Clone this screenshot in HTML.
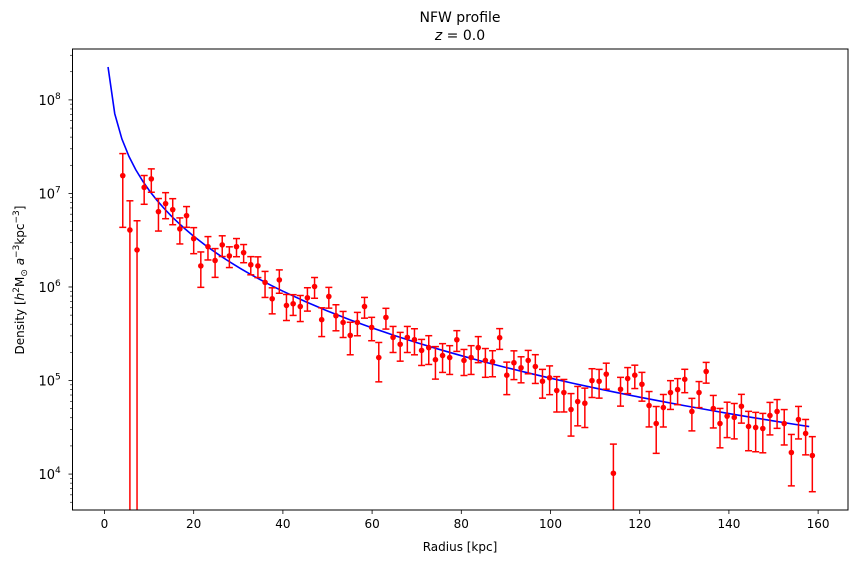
<!DOCTYPE html>
<html><head><meta charset="utf-8"><style>
body{margin:0;background:#fff;font-family:"DejaVu Sans","Liberation Sans",sans-serif}
svg text{font-family:"DejaVu Sans","Liberation Sans",sans-serif;fill:#000}
</style></head><body>
<svg id="chart" width="857" height="564" viewBox="0 0 857 564" xmlns="http://www.w3.org/2000/svg">
<text x="460" y="22" font-size="14" text-anchor="middle">NFW profile</text>
<text x="460" y="40" font-size="14" text-anchor="middle"><tspan font-style="italic">z</tspan> = 0.0</text>
<text x="460" y="551" font-size="12" text-anchor="middle">Radius [kpc]</text>
<text transform="translate(24,280) rotate(-90)" font-size="12" text-anchor="middle">Density [<tspan font-style="italic">h</tspan><tspan dy="-5" font-size="9">2</tspan><tspan dy="5">M</tspan><tspan dy="3" font-size="9">⊙</tspan><tspan dy="-3" font-style="italic"> a</tspan><tspan dy="-5" font-size="9">−3</tspan><tspan dy="5">kpc</tspan><tspan dy="-5" font-size="9">−3</tspan><tspan dy="5">]</tspan></text>
<g id="plot"></g>
</svg>
<script>
const xTicks=[0,20,40,60,80,100,120,140,160];
const yTickExps=[4,5,6,7,8];
const radius=[4.1,5.7,7.3,8.9,10.5,12.1,13.7,15.3,16.9,18.4,20.0,21.6,23.2,24.8,26.4,28.0,29.6,31.2,32.8,34.4,36.0,37.6,39.2,40.8,42.3,43.9,45.5,47.1,48.7,50.3,51.9,53.5,55.1,56.7,58.3,59.9,61.5,63.1,64.7,66.3,67.9,69.5,71.1,72.7,74.2,75.8,77.4,79.0,80.6,82.2,83.8,85.4,87.0,88.6,90.2,91.8,93.4,95.0,96.6,98.2,99.8,101.4,103.0,104.6,106.1,107.7,109.3,110.9,112.5,114.1,115.7,117.3,118.9,120.5,122.1,123.7,125.3,126.9,128.5,130.1,131.7,133.3,134.9,136.5,138.0,139.6,141.2,142.8,144.4,146.0,147.6,149.2,150.8,152.4,154.0,155.6,157.2,158.7];
const density=[1.55e7,4.07e6,2.49e6,1.16e7,1.43e7,6.39e6,7.78e6,6.71e6,4.18e6,5.79e6,3.29e6,1.68e6,2.70e6,1.92e6,2.82e6,2.15e6,2.70e6,2.33e6,1.73e6,1.68e6,1.12e6,7.48e5,1.19e6,6.35e5,6.62e5,6.19e5,7.67e5,1.01e6,4.47e5,7.92e5,4.93e5,4.18e5,3.04e5,4.18e5,6.19e5,3.70e5,1.76e5,4.73e5,2.89e5,2.44e5,2.89e5,2.73e5,2.10e5,2.25e5,1.67e5,1.85e5,1.76e5,2.73e5,1.64e5,1.76e5,2.25e5,1.64e5,1.59e5,2.87e5,1.14e5,1.55e5,1.37e5,1.64e5,1.41e5,9.82e4,1.07e5,7.81e4,7.44e4,4.90e4,5.96e4,5.72e4,9.98e4,9.82e4,1.17e5,1.02e4,8.07e4,1.05e5,1.14e5,9.12e4,5.41e4,3.47e4,5.14e4,7.44e4,8.00e4,1.03e5,4.67e4,7.44e4,1.25e5,5.02e4,3.47e4,4.16e4,4.03e4,5.31e4,3.23e4,3.15e4,3.07e4,4.23e4,4.67e4,3.47e4,1.70e4,3.83e4,2.72e4,1.58e4];
const relErr=[0.72,1.05,1.05,0.34,0.28,0.38,0.31,0.31,0.31,0.25,0.31,0.41,0.28,0.34,0.25,0.25,0.22,0.22,0.22,0.25,0.31,0.31,0.28,0.31,0.25,0.31,0.28,0.25,0.34,0.25,0.31,0.31,0.38,0.28,0.25,0.28,0.45,0.25,0.31,0.34,0.31,0.31,0.31,0.34,0.38,0.34,0.34,0.25,0.31,0.34,0.31,0.34,0.31,0.25,0.38,0.34,0.31,0.28,0.34,0.34,0.34,0.41,0.38,0.48,0.45,0.45,0.34,0.34,0.31,1.05,0.34,0.31,0.28,0.34,0.41,0.52,0.38,0.34,0.31,0.28,0.38,0.31,0.25,0.38,0.45,0.41,0.41,0.34,0.45,0.45,0.45,0.38,0.34,0.41,0.56,0.38,0.41,0.59];
const nfwRho0=[6.1e6];
const nfwRs=[31];
const modelRadius=[0.8,2.3,3.9,5.5,7.0,8.6,10.2,11.7,13.3,14.9,16.5,18.0,19.6,21.2,22.8,24.3,25.9,27.5,29.0,30.6,32.2,33.8,35.3,36.9,38.5,40.0,45,50,55,60,65,70,75,80,85,90,95,100,105,110,115,120,125,130,135,140,145,150,155,158.0];

const L=72.5,R=848,T=49,B=510;
const xmin=-7.17,xmax=166.7,ymin=3.616,ymax=8.544;
const sx=v=>L+(v-xmin)/(xmax-xmin)*(R-L);
const sy=v=>B-(Math.log10(v)-ymin)/(ymax-ymin)*(B-T);
const NS="http://www.w3.org/2000/svg";
const g=document.getElementById('plot');
function mk(t,a,p){const e=document.createElementNS(NS,t);for(const k in a)e.setAttribute(k,a[k]);(p||g).appendChild(e);return e;}

const defs=mk('clipPath',{id:'clip'});mk('rect',{x:L,y:T,width:R-L,height:B-T},defs);
const data=mk('g',{'clip-path':'url(#clip)'});



const pts=modelRadius.map(r=>{const x=r/nfwRs[0];return sx(r)+','+sy(nfwRho0[0]/(x*(1+x)*(1+x)));}).join(' ');
const line=mk('polyline',{points:pts,fill:'none',stroke:'#0000ff','stroke-width':1.6},data);



radius.forEach((r,i)=>{
  const v=density[i],e=v*relErr[i];
  const gp=mk('g',{},data);
  
  
  const x=sx(r),yt=sy(v+e),yb=(v-e)>0?sy(v-e):B+10,yc=sy(v);
  mk('line',{x1:x,x2:x,y1:yt,y2:yb,stroke:'#ff0000','stroke-width':1.5},gp);
  mk('line',{x1:x-3.5,x2:x+3.5,y1:yt,y2:yt,stroke:'#ff0000','stroke-width':1.5},gp);
  if((v-e)>0)mk('line',{x1:x-3.5,x2:x+3.5,y1:yb,y2:yb,stroke:'#ff0000','stroke-width':1.5},gp);
  mk('circle',{cx:x,cy:yc,r:2.8,fill:'#ff0000'},gp);
});

const fr=mk('rect',{x:L,y:T,width:R-L,height:B-T,fill:'none',stroke:'#000','stroke-width':1});



xTicks.forEach(t=>{
  const x=sx(t);
  mk('line',{x1:x,x2:x,y1:B,y2:B+4,stroke:'#000','stroke-width':0.8});
  const tx=mk('text',{x:x,y:B+18,'font-size':12,'text-anchor':'middle'});tx.textContent=t;
  
  
});
for(let ex=3;ex<=8;ex++){
  for(let m=2;m<=9;m++){const v=m*Math.pow(10,ex);const y=sy(v);if(y>=T&&y<=B)mk('line',{x1:L-2.5,x2:L,y1:y,y2:y,stroke:'#000','stroke-width':0.6});}
}
yTickExps.forEach(ex=>{
  const y=sy(Math.pow(10,ex));
  mk('line',{x1:L-4,x2:L,y1:y,y2:y,stroke:'#000','stroke-width':0.8});
  const tx=mk('text',{x:L-34,y:y+5,'font-size':13,'text-anchor':'start'});
  tx.textContent='10';
  
  
  const sp=document.createElementNS(NS,'tspan');sp.setAttribute('dy','-6');sp.setAttribute('font-size','9');sp.textContent=ex;tx.appendChild(sp);
});
</script>
</body></html>
